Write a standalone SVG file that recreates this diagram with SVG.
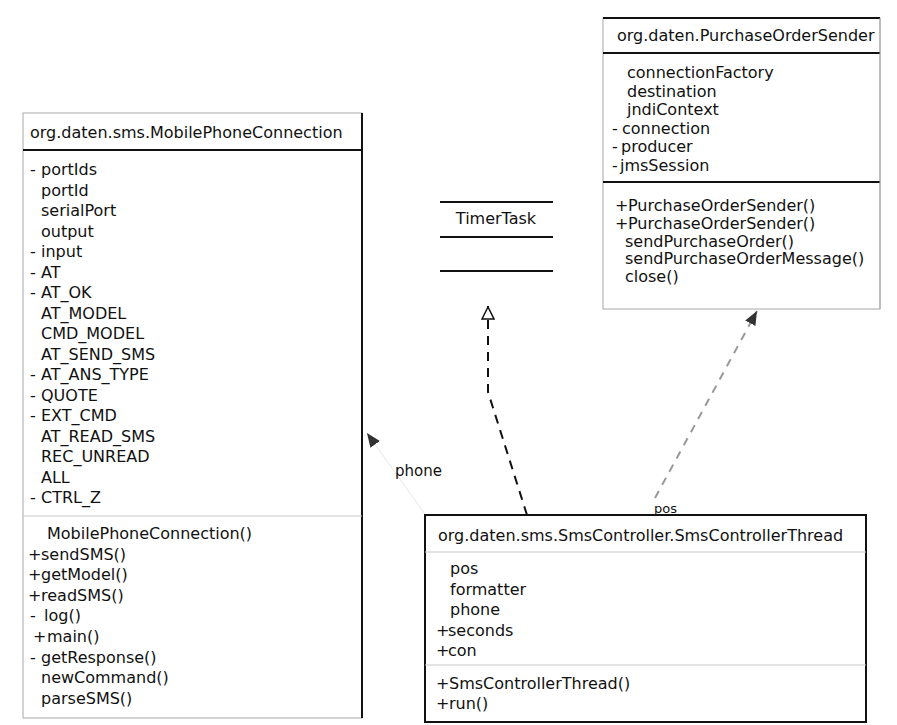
<svg xmlns="http://www.w3.org/2000/svg" width="897" height="725" viewBox="0 0 897 725">
<defs>
<style>
text{font-family:"DejaVu Sans","Liberation Sans",sans-serif;font-size:16px;fill:#111}
.lbl{font-size:15px}
.faint{stroke:#a8a8a8;stroke-width:1;fill:none}
.dark{stroke:#111;stroke-width:2;fill:none}
.soft{stroke:#c8c8c8;stroke-width:1;fill:none}
</style>
<marker id="tri" viewBox="0 0 14 14" refX="14" refY="7" markerWidth="14" markerHeight="14" orient="auto" markerUnits="userSpaceOnUse"><path d="M1,1 L13,7 L1,13 z" fill="#fff" stroke="#111" stroke-width="1.5"/></marker>
<marker id="head" viewBox="0 0 12 12" refX="12" refY="6" markerWidth="14" markerHeight="14" orient="auto" markerUnits="userSpaceOnUse"><path d="M0,1 L12,6 L0,11 z" fill="#333"/></marker>
</defs>
<rect width="897" height="725" fill="#fff"/>

<g id="connectors">
<path d="M527,515 L488,392 L488,306" fill="none" stroke="#111" stroke-width="2" stroke-dasharray="9,7" marker-end="url(#tri)"/>
<path d="M655,498 L757,311" fill="none" stroke="#999" stroke-width="2" stroke-dasharray="8,7" marker-end="url(#head)"/>
<path d="M427,517 L367,433" fill="none" stroke="#e6e6e6" stroke-width="1" marker-end="url(#head)"/>
<text x="395" y="476" class="lbl">phone</text>
<text x="654" y="513" class="lbl" style="font-size:13px">pos</text>
</g>

<g id="MobilePhoneConnection">
<rect x="23" y="113" width="339" height="605" class="faint"/>
<line x1="362" y1="113" x2="362" y2="718" class="dark"/>
<line x1="23" y1="150" x2="362" y2="150" class="dark"/>
<line x1="23" y1="516" x2="362" y2="516" class="soft"/>
<text x="30" y="138">org.daten.sms.MobilePhoneConnection</text>
<text x="30" y="175">-<tspan x="41">portIds</tspan></text>
<text x="41" y="195.5">portId</text>
<text x="41" y="216">serialPort</text>
<text x="41" y="236.5">output</text>
<text x="30" y="257">-<tspan x="41">input</tspan></text>
<text x="30" y="277.5">-<tspan x="41">AT</tspan></text>
<text x="30" y="298">-<tspan x="41">AT_OK</tspan></text>
<text x="41" y="318.5">AT_MODEL</text>
<text x="41" y="339">CMD_MODEL</text>
<text x="41" y="359.5">AT_SEND_SMS</text>
<text x="30" y="380">-<tspan x="41">AT_ANS_TYPE</tspan></text>
<text x="30" y="400.5">-<tspan x="41">QUOTE</tspan></text>
<text x="30" y="421">-<tspan x="41">EXT_CMD</tspan></text>
<text x="41" y="441.5">AT_READ_SMS</text>
<text x="41" y="462">REC_UNREAD</text>
<text x="41" y="482.5">ALL</text>
<text x="30" y="503">-<tspan x="41">CTRL_Z</tspan></text>
<text x="47" y="539">MobilePhoneConnection()</text>
<text x="28" y="559.6">+<tspan x="41">sendSMS()</tspan></text>
<text x="28" y="580.2">+<tspan x="41">getModel()</tspan></text>
<text x="28" y="600.8">+<tspan x="41">readSMS()</tspan></text>
<text x="30" y="621.4">-<tspan x="44">log()</tspan></text>
<text x="33" y="642">+<tspan x="47">main()</tspan></text>
<text x="30" y="662.6">-<tspan x="41">getResponse()</tspan></text>
<text x="41" y="683.2">newCommand()</text>
<text x="41" y="703.8">parseSMS()</text>
</g>

<g id="PurchaseOrderSender">
<rect x="603" y="18" width="277" height="291" class="faint"/>
<line x1="603" y1="18" x2="880" y2="18" class="dark"/>
<line x1="603" y1="53" x2="880" y2="53" class="dark"/>
<line x1="603" y1="182" x2="880" y2="182" class="dark"/>
<line x1="880" y1="18" x2="880" y2="309" class="faint"/>
<text x="617" y="41">org.daten.PurchaseOrderSender</text>
<text x="627" y="78">connectionFactory</text>
<text x="627" y="96.6">destination</text>
<text x="627" y="115.2">jndiContext</text>
<text x="612" y="133.8">-<tspan x="622">connection</tspan></text>
<text x="612" y="152.4">-<tspan x="621">producer</tspan></text>
<text x="612" y="171">-<tspan x="620">jmsSession</tspan></text>
<text x="615" y="211">+<tspan x="628">PurchaseOrderSender()</tspan></text>
<text x="615" y="228.8">+<tspan x="628">PurchaseOrderSender()</tspan></text>
<text x="625" y="246.6">sendPurchaseOrder()</text>
<text x="625" y="264.4">sendPurchaseOrderMessage()</text>
<text x="625" y="282.2">close()</text>
</g>

<g id="TimerTask">
<line x1="440" y1="202" x2="553" y2="202" class="dark"/>
<line x1="440" y1="237" x2="553" y2="237" class="dark"/>
<line x1="440" y1="271" x2="553" y2="271" class="dark"/>
<text x="496" y="224" text-anchor="middle">TimerTask</text>
</g>

<g id="SmsControllerThread">
<rect x="425" y="515" width="441" height="207" class="dark"/>
<line x1="425" y1="552" x2="866" y2="552" class="soft"/>
<line x1="425" y1="665" x2="866" y2="665" class="soft"/>
<text x="438" y="541">org.daten.sms.SmsController.SmsControllerThread</text>
<text x="450" y="574">pos</text>
<text x="450" y="594.5">formatter</text>
<text x="450" y="615">phone</text>
<text x="436" y="635.5">+<tspan x="448">seconds</tspan></text>
<text x="436" y="656">+<tspan x="448">con</tspan></text>
<text x="436" y="689">+<tspan x="449">SmsControllerThread()</tspan></text>
<text x="436" y="709">+<tspan x="449">run()</tspan></text>
</g>
</svg>
